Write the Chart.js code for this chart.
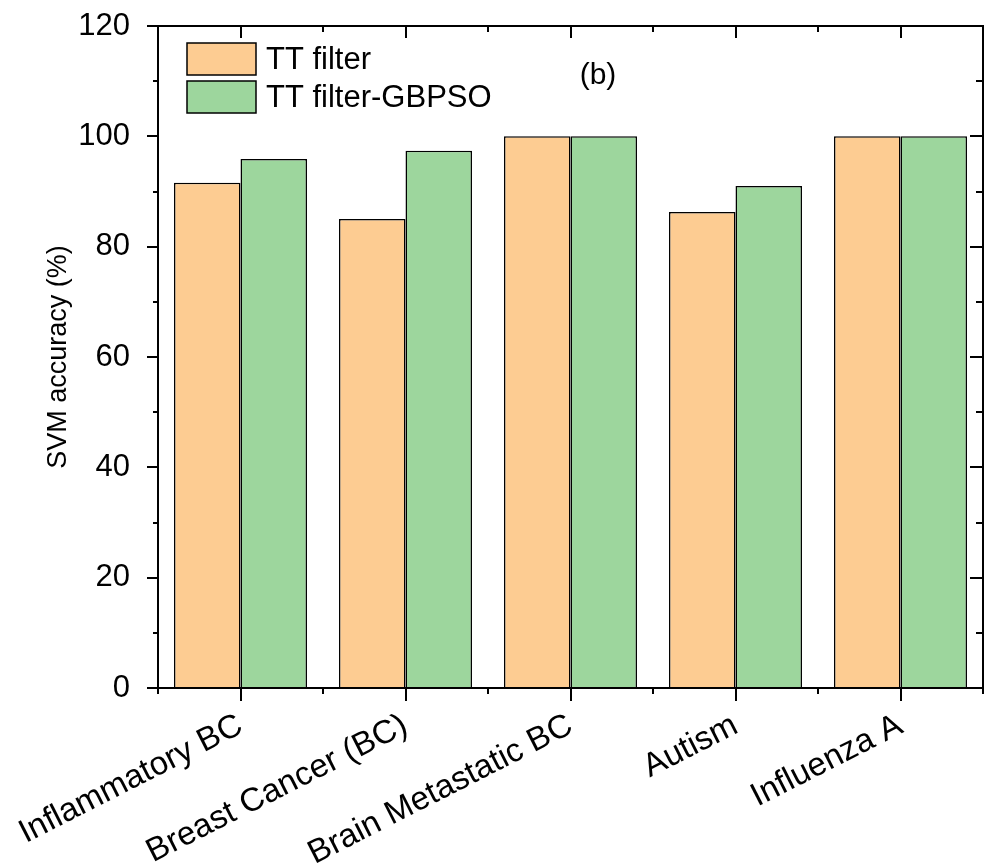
<!DOCTYPE html>
<html>
<head>
<meta charset="utf-8">
<script src="https://cdn.jsdelivr.net/npm/chart.js@4.4.1/dist/chart.umd.min.js"></script>
<style>
  html, body { margin: 0; padding: 0; background: #fff; }
  #wrap { width: 995px; height: 863px; }
</style>
</head>
<body>
<div id="wrap"><canvas id="mycanvas" width="995" height="863"></canvas></div>
<script>
// data
const categories = ['Inflammatory BC', 'Breast Cancer (BC)', 'Brain Metastatic BC', 'Autism', 'Influenza A'];
const ttFilter = [91.6, 85.0, 100, 86.3, 100];
const ttGbpso = [95.9, 97.4, 100, 91.0, 100];
const yTicks = [0, 20, 40, 60, 80, 100, 120];
const panelLabel = '(b)';

const FONT = "'Liberation Sans', Arial, sans-serif";

// box + all tick marks, drawn by hand to look like the Origin frame
const framePlugin = {
  id: 'frame',
  afterDatasetsDraw(chart) {
    const ctx = chart.ctx;
    const a = chart.chartArea;
    const x = chart.scales.x;
    const y = chart.scales.y;
    ctx.save();
    ctx.strokeStyle = '#000';
    ctx.lineWidth = 2;
    ctx.strokeRect(a.left, a.top, a.right - a.left, a.bottom - a.top);

    ctx.beginPath();
    for (let v = y.min; v <= y.max; v += 10) {
      const py = Math.round(y.getPixelForValue(v));
      const major = yTicks.indexOf(v) >= 0;
      ctx.moveTo(a.left - (major ? 11 : 5), py);
      ctx.lineTo(a.left, py);
      ctx.moveTo(a.right, py);
      ctx.lineTo(a.right - (major ? 13 : 7), py);
    }
    const step = x.getPixelForValue(1) - x.getPixelForValue(0);
    for (let i = 0; i < categories.length; i++) {
      const cx = Math.round(x.getPixelForValue(i));
      ctx.moveTo(cx, a.bottom); ctx.lineTo(cx, a.bottom + 13);
      ctx.moveTo(cx, a.top); ctx.lineTo(cx, a.top + 12);
    }
    for (let i = 0; i <= categories.length; i++) {
      const bx = Math.round(x.getPixelForValue(0) - step / 2 + i * step);
      ctx.moveTo(bx, a.bottom); ctx.lineTo(bx, a.bottom + 6);
      ctx.moveTo(bx, a.top); ctx.lineTo(bx, a.top + 6);
    }
    ctx.stroke();

    // legend inside the plot
    ctx.lineWidth = 1.5;
    ctx.font = '31px ' + FONT;
    ctx.textBaseline = 'middle';
    ctx.textAlign = 'left';
    chart.data.datasets.forEach(function(ds, i) {
      const top = a.top + 17 + i * 38;
      ctx.fillStyle = ds.backgroundColor;
      ctx.fillRect(187, top, 69, 32);
      ctx.strokeRect(187, top, 69, 32);
      ctx.fillStyle = '#000';
      ctx.fillText(ds.label, 266, top + 17);
    });
    ctx.textAlign = 'center';
    ctx.font = '30px ' + FONT;
    ctx.fillText(panelLabel, 598, 76);
    ctx.restore();
  }
};

const chartdata = {
  labels: categories,
  datasets: [
    {
      label: 'TT filter',
      data: ttFilter,
      backgroundColor: 'rgb(253, 204, 146)',
      borderColor: '#000',
      borderWidth: 1.5,
      categoryPercentage: 0.806,
      barPercentage: 1
    },
    {
      label: 'TT filter-GBPSO',
      data: ttGbpso,
      backgroundColor: 'rgb(157, 214, 157)',
      borderColor: '#000',
      borderWidth: 1.5,
      categoryPercentage: 0.806,
      barPercentage: 1
    }
  ]
};

var ctx = document.getElementById('mycanvas');

var barGraph = new Chart(ctx, {
  type: 'bar',
  data: chartdata,
  plugins: [framePlugin],
  options: {
    responsive: false,
    animation: false,
    layout: { padding: { top: 26, right: 12, left: 0, bottom: 0 } },
    plugins: { legend: { display: false }, tooltip: { enabled: false } },
    scales: {
      x: {
        grid: { display: false },
        border: { display: false },
        ticks: {
          color: '#000',
          font: { family: FONT, size: 33 },
          minRotation: 27,
          maxRotation: 27,
          autoSkip: false,
          padding: 10
        },
        afterFit: function(scale) {
          scale.height = 175;
          scale.paddingLeft = 0;
          scale.paddingRight = 0;
        }
      },
      y: {
        min: 0,
        max: 120,
        grid: { display: false },
        border: { display: false },
        ticks: {
          color: '#000',
          font: { family: FONT, size: 31 },
          stepSize: 20,
          padding: 20
        },
        title: {
          display: true,
          text: 'SVM accuracy (%)',
          color: '#000',
          font: { family: FONT, size: 27 },
          padding: { top: 42, bottom: 0 }
        },
        afterFit: function(scale) {
          scale.width = 158;
          scale.paddingTop = 0;
          scale.paddingBottom = 0;
        }
      }
    }
  }
});
</script>
</body>
</html>
